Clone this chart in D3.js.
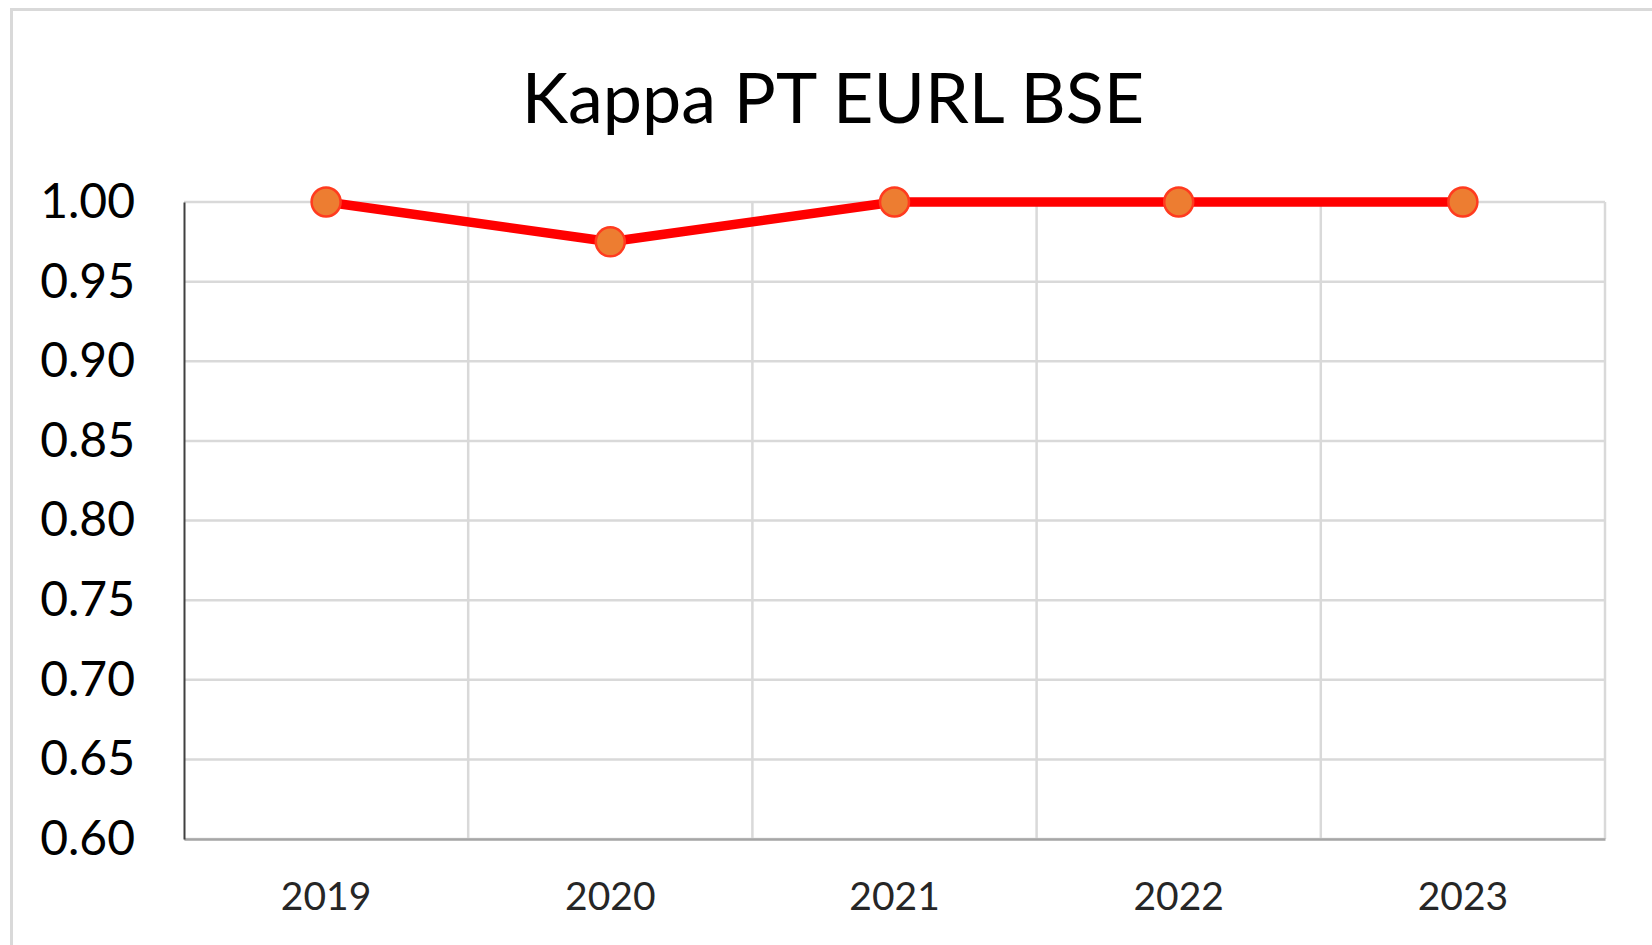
<!DOCTYPE html>
<html lang="en">
  <head>
    <meta charset="UTF-8" />
    <script src="https://d3js.org/d3.v7.min.js"></script>
    <title>Kappa PT EURL BSE</title>
    <style>
      body { margin: 0; background: #fff; }
    </style>
  </head>
  <body>
    <div id="chart-container"></div>

    <script>
      // chart data
      const years = ["2019", "2020", "2021", "2022", "2023"];
      const kappa = [1.0, 0.975, 1.0, 1.0, 1.0];
      const yTicks = [0.6, 0.65, 0.7, 0.75, 0.8, 0.85, 0.9, 0.95, 1.0];
      const title = "Kappa PT EURL BSE";

      const W = 1652, H = 945;
      const margin = { top: 202, right: 47, bottom: 106, left: 184 };
      const width = W - margin.left - margin.right;
      const height = H - margin.top - margin.bottom;
      const font = "Lato, 'Open Sans', sans-serif";

      const root = d3
        .select("#chart-container")
        .append("svg")
        .attr("width", W)
        .attr("height", H);

      // outer chart border
      root
        .append("path")
        .attr("d", `M11.5,${H} V9.5 H${W}`)
        .attr("fill", "none")
        .attr("stroke", "#d9d9d9")
        .attr("stroke-width", 3);

      root
        .append("text")
        .attr("x", 833)
        .attr("y", 123)
        .attr("text-anchor", "middle")
        .style("font-family", font)
        .style("font-size", "70px")
        .attr("fill", "#000")
        .text(title);

      const svg = root
        .append("g")
        .attr("transform", "translate(" + margin.left + "," + margin.top + ")");

      const x = d3.scaleBand().domain(years).range([0, width]);
      const y = d3.scaleLinear().domain([0.6, 1.0]).range([height, 0]);

      // horizontal gridlines
      svg
        .append("g")
        .selectAll("line")
        .data(yTicks)
        .join("line")
        .attr("x1", 0)
        .attr("x2", width)
        .attr("y1", (d) => y(d))
        .attr("y2", (d) => y(d))
        .attr("stroke", "#d9d9d9")
        .attr("stroke-width", 2.5);

      // vertical gridlines at category boundaries
      svg
        .append("g")
        .selectAll("line")
        .data(years)
        .join("line")
        .attr("x1", (d) => x(d) + x.bandwidth())
        .attr("x2", (d) => x(d) + x.bandwidth())
        .attr("y1", 0)
        .attr("y2", height)
        .attr("stroke", "#d9d9d9")
        .attr("stroke-width", 2.5);

      // x axis
      svg
        .append("g")
        .attr("transform", "translate(0," + height + ")")
        .call(d3.axisBottom(x).tickSize(0).tickPadding(43))
        .call((g) => g.select(".domain").attr("stroke", "#a6a6a6").attr("stroke-width", 2.5))
        .selectAll("text")
        .style("font-family", font)
        .style("font-size", "39px")
        .attr("fill", "#262626");

      // y axis
      svg
        .append("g")
        .call(
          d3
            .axisLeft(y)
            .tickValues(yTicks)
            .tickSize(0)
            .tickPadding(49)
            .tickFormat(d3.format(".2f"))
        )
        .call((g) => g.select(".domain").attr("stroke", "#404040").attr("stroke-width", 2))
        .selectAll("text")
        .style("font-family", font)
        .style("font-size", "48px")
        .attr("fill", "#000");

      const points = years.map((yr, i) => ({ year: yr, value: kappa[i] }));

      const line = d3
        .line()
        .x((d) => x(d.year) + x.bandwidth() / 2)
        .y((d) => y(d.value));

      svg
        .append("path")
        .datum(points)
        .attr("fill", "none")
        .attr("stroke", "#ff0000")
        .attr("stroke-width", 9.5)
        .attr("stroke-linejoin", "round")
        .attr("d", line);

      svg
        .append("g")
        .selectAll("circle")
        .data(points)
        .join("circle")
        .attr("cx", (d) => x(d.year) + x.bandwidth() / 2)
        .attr("cy", (d) => y(d.value))
        .attr("r", 14.5)
        .attr("fill", "#ed7d31")
        .attr("stroke", "#ff3b1f")
        .attr("stroke-width", 2.5);
    </script>
  </body>
</html>
